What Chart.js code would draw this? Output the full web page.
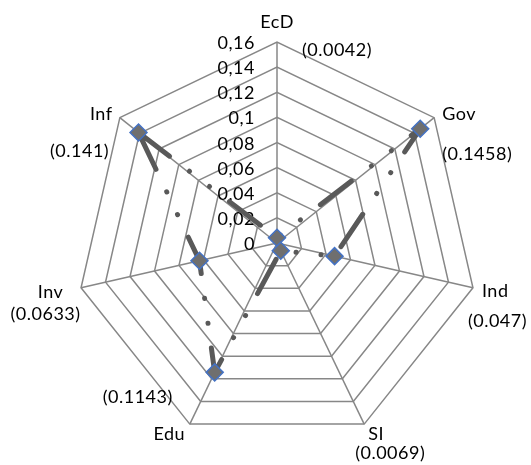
<!DOCTYPE html>
<html>
<head>
<meta charset="utf-8">
<script src="https://cdn.jsdelivr.net/npm/chart.js@4/dist/chart.umd.min.js"></script>
<style>
	html, body { margin: 0; padding: 0; background: #fff; }
	canvas { display: block; }
</style>
</head>
<body>
<canvas id="chart-area" width="531" height="465"></canvas>
<script>
var categories = ['EcD', 'Gov', 'Ind', 'SI', 'Edu', 'Inv', 'Inf'];
var values = [0.0042, 0.1458, 0.047, 0.0069, 0.1143, 0.0633, 0.141];
var tickLabels = ['0', '0,02', '0,04', '0,06', '0,08', '0,1', '0,12', '0,14', '0,16'];

// where the name and the (value) text sit, relative to each outer vertex
// [nameAlign, dx, dy, valueAlign, dx, dy]
var labelPlacement = [
	['center', 0, -14.5, 'left', 25, 13.5],
	['left', 8, 2.5, 'left', 8, 42],
	['left', 9, 9, 'center', 24.5, 39.5],
	['left', 4, 16, 'center', 26, 34.5],
	['center', -20.5, 16, 'right', -17, -21],
	['right', -17.7, 10, 'center', -35.5, 32],
	['right', -7.3, 2, 'right', -10.7, 39]
];

var FONT = '18px Lato';

// the dashed outline starts at the last category (Inf), so rotate the order
// and turn the scale back by one step to keep EcD at the top
var n = categories.length;
var order = [];
for (var k = 0; k < n; k++) {
	order.push((k + n - 1) % n);
}

var outerLabels = {
	id: 'outerLabels',
	beforeDatasetsDraw: function (chart)
	{
		var ctx = chart.ctx;
		var scale = chart.scales.r;
		ctx.save();
		ctx.font = FONT;
		ctx.fillStyle = '#000';
		ctx.textBaseline = 'alphabetic';
		ctx.letterSpacing = '0.5px';
		ctx.textAlign = 'right';
		scale.ticks.forEach(function (tick, i) {
			var d = scale.getDistanceFromCenterForValue(tick.value);
			ctx.fillText(tickLabels[i], scale.xCenter - 22, scale.yCenter - d + 7);
		});
		ctx.restore();
	},
	afterDraw: function (chart)
	{
		var ctx = chart.ctx;
		var scale = chart.scales.r;
		ctx.save();
		ctx.font = FONT;
		ctx.fillStyle = '#000';
		ctx.textBaseline = 'alphabetic';
		ctx.letterSpacing = '0.5px';
		order.forEach(function (i, j) {
			var p = scale.getPointPosition(j, scale.drawingArea);
			var pl = labelPlacement[i];
			ctx.textAlign = pl[0];
			ctx.fillText(categories[i], p.x + pl[1], p.y + pl[2]);
			ctx.textAlign = pl[3];
			ctx.fillText('(' + values[i] + ')', p.x + pl[4], p.y + pl[5]);
		});
		ctx.restore();
	}
};

var config = {
	type: 'radar',
	data: {
		labels: order.map(function (i) { return categories[i]; }),
		datasets: [{
			data: order.map(function (i) { return values[i]; }),
			fill: false,
			borderColor: '#595959',
			borderWidth: 5,
			borderDash: [39, 25, 0.1, 25, 0.1, 25],
			borderDashOffset: 0,
			borderCapStyle: 'round',
			borderJoinStyle: 'round',
			pointStyle: 'rectRot',
			pointRadius: 8.5,
			pointHoverRadius: 8.5,
			pointBackgroundColor: '#6f6f6f',
			pointBorderColor: '#4472c4',
			pointBorderWidth: 1.5
		}]
	},
	options: {
		responsive: false,
		animation: false,
		layout: { padding: { left: 76, right: 53, top: 42, bottom: 21 } },
		plugins: {
			legend: { display: false },
			tooltip: { enabled: false }
		},
		scales: {
			r: {
				min: 0,
				max: 0.16,
				startAngle: -360 / n,
				ticks: { stepSize: 0.02, display: false },
				grid: { color: '#878787', lineWidth: 1.5 },
				angleLines: { color: '#878787', lineWidth: 1.5 },
				pointLabels: { display: false }
			}
		}
	},
	plugins: [outerLabels]
};

var ctx = document.getElementById('chart-area');
var myRadarChart = new Chart(ctx, config);
</script>
</body>
</html>
